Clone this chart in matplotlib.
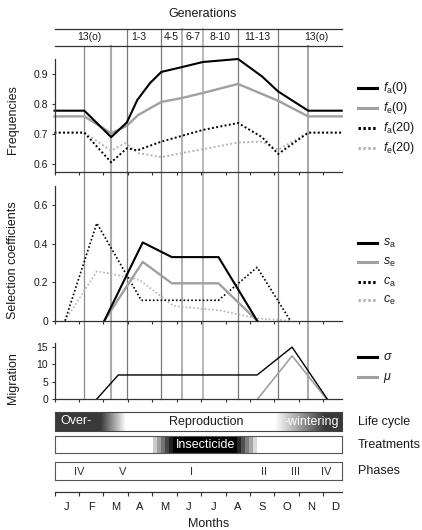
import numpy as np
import matplotlib
matplotlib.use("Agg")
import matplotlib.pyplot as plt
from matplotlib.lines import Line2D
from matplotlib.transforms import blended_transform_factory

plt.rcParams['font.family'] = ['Liberation Sans', 'DejaVu Sans']
plt.rcParams['mathtext.fontset'] = 'custom'
plt.rcParams['mathtext.rm'] = 'Liberation Sans'
plt.rcParams['mathtext.it'] = 'Liberation Sans:italic'
plt.rcParams['mathtext.bf'] = 'Liberation Sans:bold'

# ---------------- data (time in months from 1 January) ----------------
months = ['J', 'F', 'M', 'A', 'M', 'J', 'J', 'A', 'S', 'O', 'N', 'D']
XMAX = 11.75

gen_labels = ['13(o)', '1-3', '4-5', '6-7', '8-10', '11-13', '13(o)']
gen_label_pos = [1.43, 3.43, 4.76, 5.65, 6.79, 8.31, 10.70]
gen_bounds = [2.96, 4.37, 5.21, 6.07, 7.51, 9.15]
phase_bounds = [1.22, 2.32, 10.38]

# allele frequencies
fa0_t = [0, 1.22, 2.32, 2.96, 3.39, 3.91, 4.37, 5.21, 6.07, 7.51, 8.49, 9.15, 10.38, 11.75]
fa0 = [0.778, 0.778, 0.690, 0.739, 0.814, 0.870, 0.907, 0.923, 0.940, 0.950, 0.892, 0.842, 0.778, 0.778]
fe0_t = [0, 1.22, 2.32, 2.96, 3.43, 4.37, 5.21, 6.07, 7.51, 9.15, 10.38, 11.75]
fe0 = [0.759, 0.759, 0.703, 0.728, 0.764, 0.807, 0.820, 0.837, 0.867, 0.811, 0.759, 0.759]
fa20_t = [0, 1.22, 2.32, 2.96, 3.39, 4.37, 6.07, 7.51, 8.49, 9.15, 10.38, 11.75]
fa20 = [0.705, 0.705, 0.606, 0.653, 0.646, 0.675, 0.714, 0.737, 0.690, 0.634, 0.705, 0.705]
fe20_t = [0, 1.22, 2.32, 2.90, 3.43, 4.37, 5.21, 6.07, 7.51, 8.49, 9.15, 10.38, 11.75]
fe20 = [0.705, 0.705, 0.645, 0.670, 0.637, 0.623, 0.637, 0.650, 0.672, 0.675, 0.648, 0.705, 0.705]

# selection coefficients
s_t = [2.04, 3.61, 4.80, 6.71, 8.29]
sa = [0, 0.406, 0.330, 0.330, 0]
se = [0, 0.305, 0.194, 0.194, 0]
ca_t = [0.43, 1.73, 3.55, 6.71, 8.29, 9.65]
ca = [0, 0.506, 0.106, 0.106, 0.277, 0]
ce_t = [0.43, 1.73, 2.34, 3.50, 4.87, 6.78, 8.29, 9.65]
ce = [0, 0.256, 0.243, 0.210, 0.076, 0.053, 0.012, 0]

# migration
sigma_t = [1.73, 2.61, 8.29, 9.72, 11.16]
sigma = [0, 6.9, 6.9, 14.9, 0]
mu_t = [8.31, 9.72, 11.13]
mu = [0, 12.4, 0]

# life cycle shading (0 = reproduction, 1 = overwintering)
lc_t = [0, 1.87, 2.89, 8.97, 11.02, XMAX]
lc_level = [0.77, 0.77, 0.0, 0.0, 0.77, 0.77]

# insecticide treatment intensity, stepped
tr_edges = [0, 4.02, 4.19, 4.36, 4.52, 4.69, 4.86, 7.48, 7.64, 7.81, 7.97, 8.14, 8.30, XMAX]
tr_level = [0, 0.2, 0.38, 0.55, 0.72, 0.87, 1.0, 0.85, 0.68, 0.5, 0.35, 0.15, 0]

phases = ['IV', 'V', 'I', 'II', 'III', 'IV']
phase_pos = [1.02, 2.78, 5.59, 8.59, 9.86, 11.13]

# ---------------- figure ----------------
W, H = 422, 530
fig = plt.figure(figsize=(W / 100, H / 100), dpi=100)
TXT = '#1a1a1a'
AX = '#333333'
GREY = '#a0a0a0'
LGREY = '#b4b4b4'
L, R = 54.5, 341.7


def px_axes(top, bottom, left=L, right=R):
    return fig.add_axes([left / W, 1 - bottom / H, (right - left) / W, (bottom - top) / H])


def style_panel(ax, ylim, yticks, ylabels):
    ax.set_xlim(0, XMAX)
    ax.set_ylim(*ylim)
    ax.patch.set_visible(False)
    for s in ('top', 'right'):
        ax.spines[s].set_visible(False)
    for s in ('left', 'bottom'):
        ax.spines[s].set_color(AX)
        ax.spines[s].set_linewidth(0.9)
    ax.set_xticks(np.arange(12))
    ax.set_xticklabels([])
    ax.set_yticks(yticks)
    ax.set_yticklabels(ylabels)
    ax.tick_params(direction='out', length=2.5, width=0.8, color=AX,
                   labelsize=7.5, labelcolor=TXT, pad=2)


# generation header
ax_g = px_axes(29, 46)
ax_g.set_xlim(0, XMAX)
ax_g.set_ylim(0, 1)
ax_g.patch.set_visible(False)
for s in ('left', 'right'):
    ax_g.spines[s].set_visible(False)
for s in ('top', 'bottom'):
    ax_g.spines[s].set_color(AX)
    ax_g.spines[s].set_linewidth(0.9)
ax_g.set_xticks([])
ax_g.set_yticks([])
for lab, x in zip(gen_labels, gen_label_pos):
    ax_g.text(x, 0.5, lab, ha='center', va='center', fontsize=7.5, color=TXT)
fig.text(203 / W, 1 - 14 / H, 'Generations', ha='center', va='center', fontsize=9, color=TXT)

# frequencies
ax_f = px_axes(59.3, 172.3)
style_panel(ax_f, (0.573, 0.949), [0.6, 0.7, 0.8, 0.9], ['0.6', '0.7', '0.8', '0.9'])
ax_f.plot(fe20_t, fe20, color=LGREY, lw=1.4, ls=(0, (1, 1.2)), clip_on=False)
ax_f.plot(fa20_t, fa20, color='black', lw=1.4, ls=(0, (1, 1.2)), clip_on=False)
ax_f.plot(fe0_t, fe0, color=GREY, lw=1.7, clip_on=False)
ax_f.plot(fa0_t, fa0, color='black', lw=1.5, clip_on=False)

# selection coefficients
ax_s = px_axes(185.8, 320.7)
style_panel(ax_s, (0, 0.7), [0, 0.2, 0.4, 0.6], ['0', '0.2', '0.4', '0.6'])
ax_s.plot(ce_t, ce, color=LGREY, lw=1.2, ls=(0, (1, 1.3)), clip_on=False)
ax_s.plot(ca_t, ca, color='black', lw=1.2, ls=(0, (1, 1.3)), clip_on=False)
ax_s.plot(s_t, se, color=GREY, lw=1.7, clip_on=False)
ax_s.plot(s_t, sa, color='black', lw=1.5, clip_on=False)

# migration
ax_m = px_axes(343.3, 399)
style_panel(ax_m, (0, 16), [0, 5, 10, 15], ['0', '5', '10', '15'])
ax_m.plot(mu_t, mu, color=GREY, lw=1.2, clip_on=False)
ax_m.plot(sigma_t, sigma, color='black', lw=1.0, clip_on=False)

# y axis titles
for yc, lab in [(120, 'Frequencies'), (260, 'Selection coefficients'), (378, 'Migration')]:
    fig.text(13 / W, 1 - yc / H, lab, rotation=90, ha='center', va='center', fontsize=9, color=TXT)

# vertical guide lines across the panels
tr = blended_transform_factory(ax_f.transData, fig.transFigure)
gen_colors = ['#7a7a7a', '#7a7a7a', '#9a9a9a', '#a5a5a5', '#7a7a7a', '#7a7a7a']
for x, c in zip(gen_bounds, gen_colors):
    fig.add_artist(Line2D([x, x], [1 - 29 / H, 1 - 399 / H], transform=tr,
                          color=c, lw=0.9 if c == '#7a7a7a' else 1.1, zorder=-1))
for x, c, w in zip(phase_bounds, ['#8c8c8c', '#ababab', '#ababab'], [0.9, 1.5, 1.5]):
    fig.add_artist(Line2D([x, x], [1 - 46 / H, 1 - 399 / H], transform=tr,
                          color=c, lw=w, zorder=-1))


# legends
def legend_entry(y_px, label, **style):
    fig.add_artist(Line2D([358.3 / W, 376.7 / W], [1 - y_px / H] * 2,
                          transform=fig.transFigure, **style))
    fig.text(383 / W, 1 - (y_px + 3.3) / H, label, fontsize=9, ha='left',
             va='baseline', color=TXT)


dot = (0, (0.8, 0.8))
legend_entry(88, r'$f_\mathrm{a}$(0)', color='black', lw=2.2)
legend_entry(107.5, r'$f_\mathrm{e}$(0)', color=GREY, lw=2.2)
legend_entry(128, r'$f_\mathrm{a}$(20)', color='black', lw=2.2, ls=dot)
legend_entry(147.5, r'$f_\mathrm{e}$(20)', color=LGREY, lw=2.2, ls=dot)
legend_entry(243, r'$s_\mathrm{a}$', color='black', lw=2.2)
legend_entry(261.5, r'$s_\mathrm{e}$', color=GREY, lw=2.2)
legend_entry(281.5, r'$c_\mathrm{a}$', color='black', lw=2.2, ls=dot)
legend_entry(300, r'$c_\mathrm{e}$', color=LGREY, lw=2.2, ls=dot)
legend_entry(356.7, r'$\sigma$', color='black', lw=2.2)
legend_entry(376.7, r'$\mu$', color=GREY, lw=2.2)


def bar_axes(top, bottom, edge):
    ax = px_axes(top, bottom)
    ax.set_xlim(0, XMAX)
    ax.set_ylim(0, 1)
    ax.set_xticks([])
    ax.set_yticks([])
    for s in ax.spines.values():
        s.set_color(edge)
        s.set_linewidth(0.8)
    return ax


# life cycle
ax_lc = bar_axes(412.3, 430.7, '#444444')
grid = np.linspace(0, XMAX, 600)
shade = np.interp(grid, lc_t, lc_level)
ax_lc.imshow(shade[None, :], extent=[0, XMAX, 0, 1], aspect='auto', cmap='gray_r',
             vmin=0, vmax=1, interpolation='bilinear')
ax_lc.text(0.23, 0.5, 'Over-', ha='left', va='center', fontsize=9, color='white')
ax_lc.text(6.2, 0.5, 'Reproduction', ha='center', va='center', fontsize=9, color=TXT)
ax_lc.text(10.54, 0.5, '-wintering', ha='center', va='center', fontsize=9, color='white')
fig.text(358 / W, 1 - 421.5 / H, 'Life cycle', ha='left', va='center', fontsize=9, color=TXT)

# treatments
ax_tr = bar_axes(435.7, 453.3, '#555555')
ax_tr.pcolormesh(tr_edges, [0, 1], np.array(tr_level)[None, :], cmap='gray_r',
                 vmin=0, vmax=1, shading='flat')
ax_tr.text(6.2, 0.5, 'Insecticide', ha='center', va='center', fontsize=9, color='white')
fig.text(358 / W, 1 - 444.5 / H, 'Treatments', ha='left', va='center', fontsize=9, color=TXT)

# phases
ax_ph = bar_axes(462.3, 480, '#555555')
for lab, x in zip(phases, phase_pos):
    ax_ph.text(x, 0.47, lab, ha='center', va='center', fontsize=8, color='#333333')
fig.text(358 / W, 1 - 471 / H, 'Phases', ha='left', va='center', fontsize=9, color=TXT)

# months axis
ax_mo = px_axes(491.8, 492.3)
ax_mo.set_xlim(0, XMAX)
ax_mo.patch.set_visible(False)
for s in ('top', 'left', 'right'):
    ax_mo.spines[s].set_visible(False)
ax_mo.spines['bottom'].set_color(AX)
ax_mo.spines['bottom'].set_linewidth(0.9)
ax_mo.set_yticks([])
ax_mo.set_xticks(np.arange(12))
ax_mo.set_xticklabels([])
ax_mo.set_xticks(np.arange(12) + 0.5, minor=True)
ax_mo.set_xticklabels(months, minor=True)
ax_mo.tick_params(axis='x', which='major', direction='out', length=3, width=0.8, color=AX)
ax_mo.tick_params(axis='x', which='minor', length=0, pad=7, labelsize=8, labelcolor=TXT)
fig.text(209 / W, 1 - 524 / H, 'Months', ha='center', va='center', fontsize=9, color=TXT)

fig.savefig('out.png', dpi=100)
